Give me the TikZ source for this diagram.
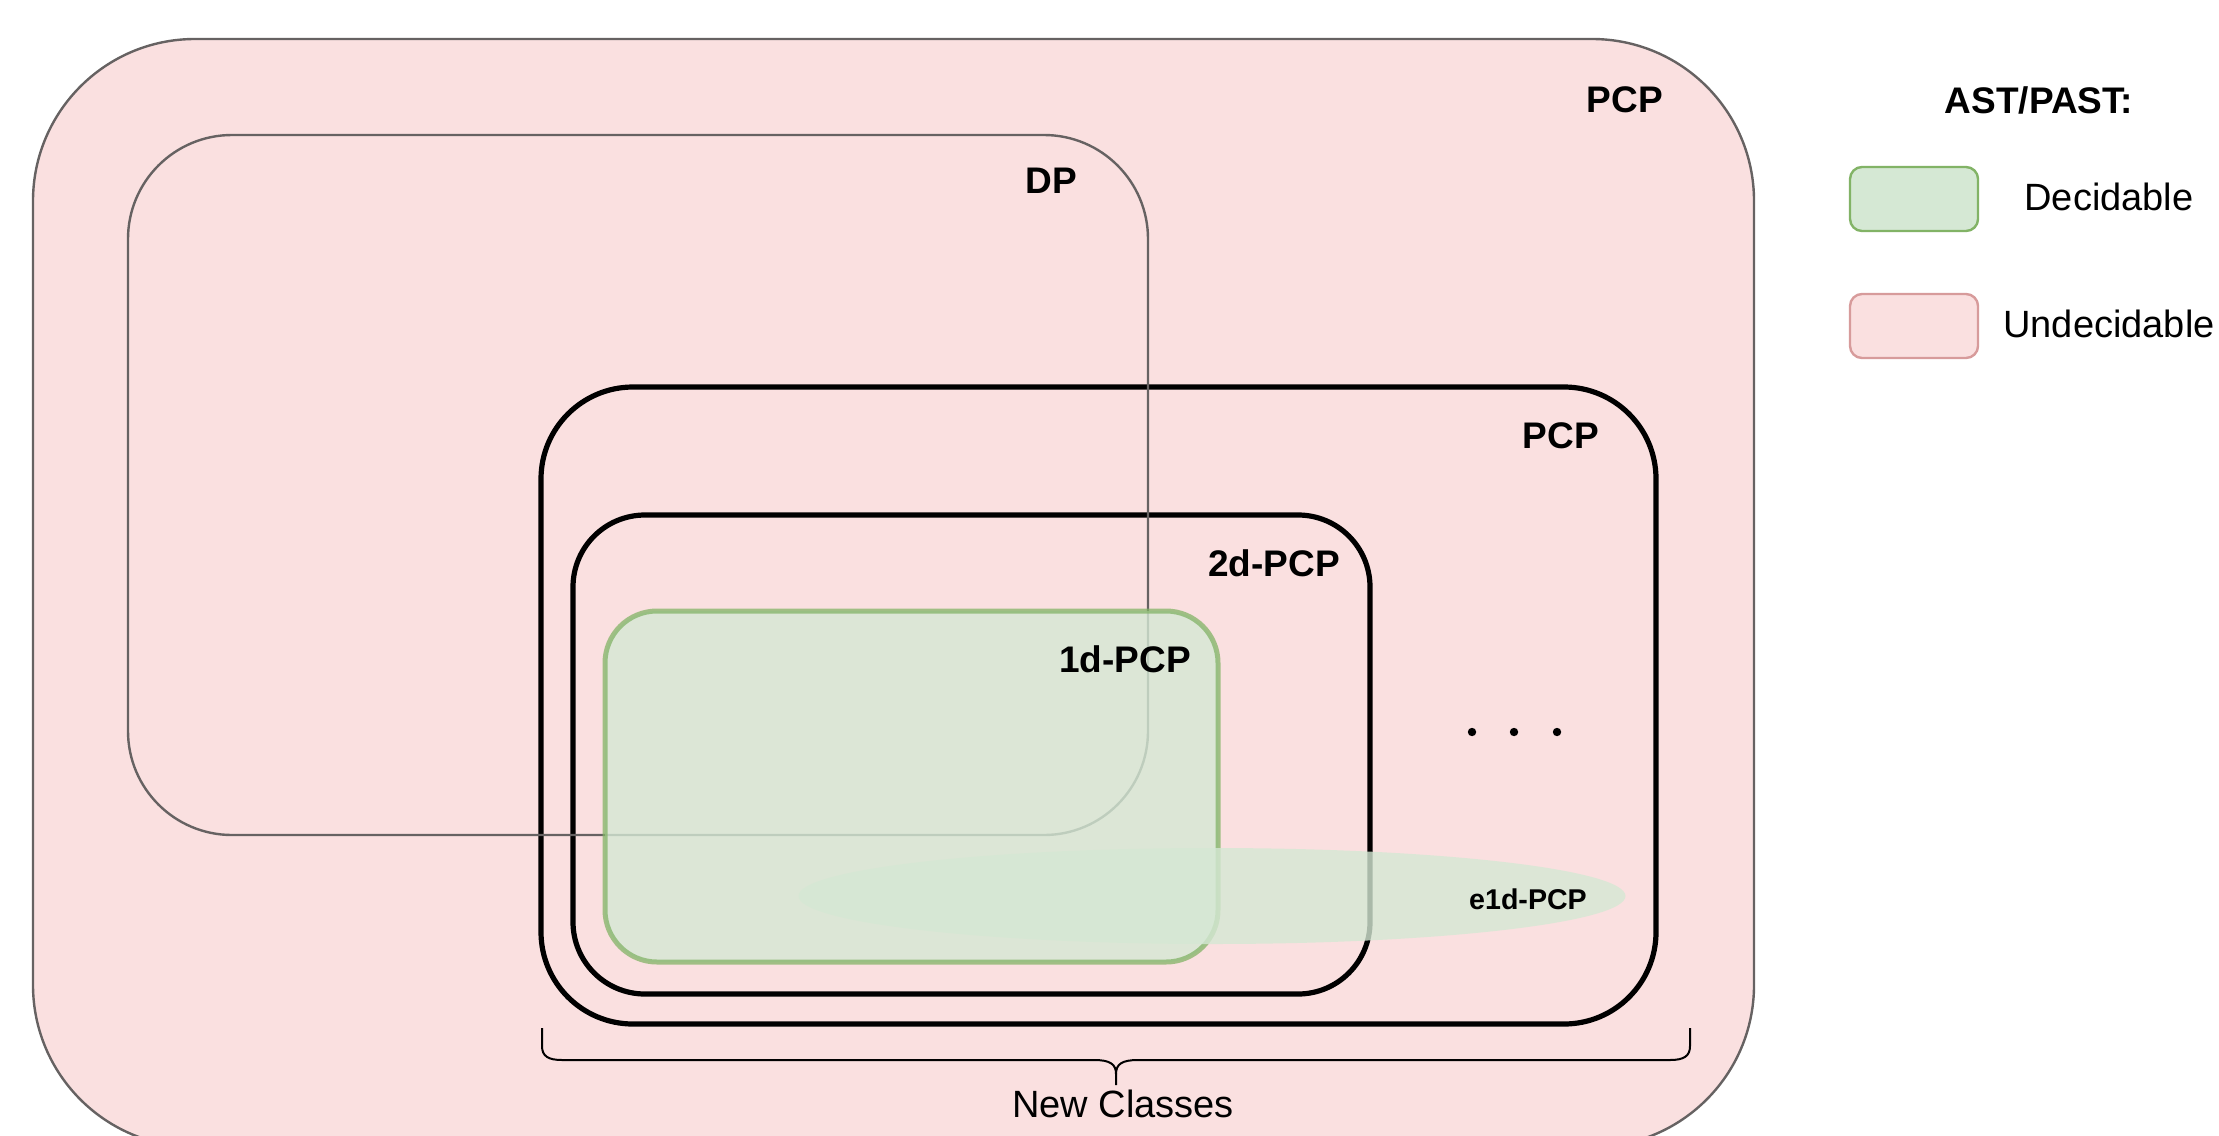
\documentclass[tikz,border=0pt]{standalone}
\usepackage{fontspec}
\setmainfont{Liberation Sans}
\usetikzlibrary{shapes.geometric}
\definecolor{pinkfill}{RGB}{250,224,224}
\definecolor{pinkstroke}{RGB}{215,155,155}
\definecolor{graystroke}{RGB}{102,98,98}
\definecolor{greenfill}{RGB}{213,232,212}
\definecolor{greenstroke}{RGB}{130,179,102}
\tikzset{
  grayset/.style={draw=graystroke, line width=1.2pt},
  blackset/.style={draw=black, line width=2.6pt},
  lbl/.style={inner sep=0pt, font=\fontsize{18.5pt}{22pt}\selectfont\bfseries},
  smalllbl/.style={inner sep=0pt, font=\fontsize{14.3pt}{17pt}\selectfont\bfseries},
  legtxt/.style={inner sep=0pt, font=\fontsize{19pt}{23pt}\selectfont},
  dotmark/.style={fill=black, circle, inner sep=0pt, minimum size=4.2pt}
}
\begin{document}
\begin{tikzpicture}[x=0.5pt,y=-0.5pt]
\useasboundingbox (0,0) rectangle (2219,1135);
\begin{scope}
\clip (0,0) rectangle (2219,1135);
% outer PCP
\filldraw[fill=pinkfill, grayset, rounded corners=81pt] (33,39) rectangle (1754,1147);
\end{scope}
% inner PCP and 2d-PCP
\draw[blackset, rounded corners=46pt] (541,387) rectangle (1656,1024);
\draw[blackset, rounded corners=36pt] (573,515) rectangle (1370,994);
% DP
\draw[grayset, rounded corners=52pt] (128,135) rectangle (1148,835);
% 1d-PCP
\filldraw[fill=greenfill, fill opacity=0.8, draw=greenstroke, draw opacity=0.75, line width=2.5pt, rounded corners=26pt] (605,611) rectangle (1218,962);
% e1d-PCP ellipse
\node[ellipse, fill=greenfill, fill opacity=0.8, inner sep=0pt, minimum width=413.5pt, minimum height=48pt] (e1d) at (1212,896) {};
% labels
\node[lbl] (lpcp) at (1625,100) {PCP};
\node[lbl] (ldp) at (1051,181) {DP};
\node[lbl] (lpcp2) at (1561,436) {PCP};
\node[lbl] (l2d) at (1274,563) {2d-PCP};
\node[lbl] (l1d) at (1125,659) {1d-PCP};
\node[smalllbl] (le1d) at (1528,899) {e1d-PCP};
\node[dotmark] (d1) at (1472,732) {};
\node[dotmark] (d2) at (1514,732) {};
\node[dotmark] (d3) at (1557,732) {};
% brace
\draw[line width=1pt] (542,1028) -- (542,1046) .. controls (542,1056) and (548,1060) .. (562,1060) -- (1094,1060) .. controls (1110,1060) and (1116,1064) .. (1116,1074) -- (1116,1085);
\draw[line width=1pt] (1690,1028) -- (1690,1046) .. controls (1690,1056) and (1684,1060) .. (1670,1060) -- (1138,1060) .. controls (1122,1060) and (1116,1064) .. (1116,1074);
\node[legtxt] (newc) at (1123,1104) {New Classes};
% legend
\node[lbl] (ast) at (2039,100) {AST/PAST:};
\filldraw[fill=greenfill, draw=greenstroke, line width=1.2pt, rounded corners=6pt] (1850,167) rectangle (1978,231);
\filldraw[fill=pinkfill, draw=pinkstroke, line width=1.2pt, rounded corners=6pt] (1850,294) rectangle (1978,358);
\node[legtxt] (dec) at (2109,197) {Decidable};
\node[legtxt] (undec) at (2109,324) {Undecidable};
\end{tikzpicture}
\end{document}
